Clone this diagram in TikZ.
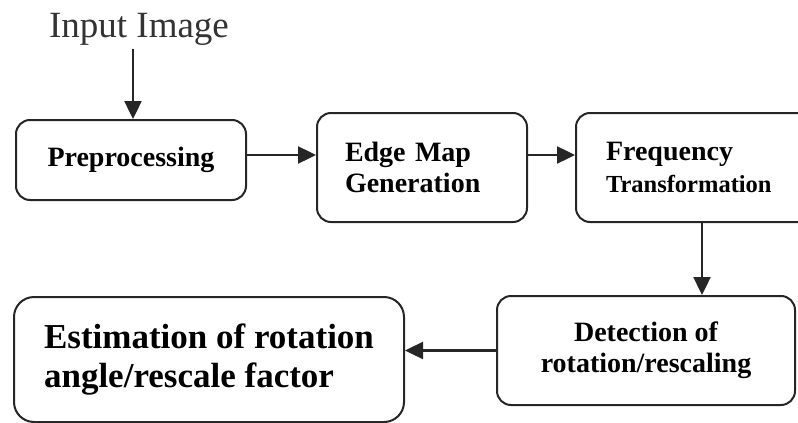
\documentclass[tikz,border=0pt]{standalone}
\usepackage{fontspec}
\setmainfont{Liberation Serif}
\usetikzlibrary{arrows.meta, positioning}

\begin{document}
\begin{tikzpicture}[
  x=1pt, y=-1pt,
  stage/.style={rectangle, draw=black!85, line width=2pt, rounded corners=#1,
                font=\fontsize{28}{31}\selectfont\bfseries, inner sep=0pt},
  stage/.default=14pt,
  arr/.style={-{Triangle[length=18pt,width=17pt]}, line width=2.4pt, black!85}
]
\useasboundingbox (0,0) rectangle (798,423);

\node[font=\fontsize{37}{40}\selectfont, text=black!80] (input) at (139,29) {Input Image};
\node[stage, minimum width=230pt, minimum height=80pt] (pre) at (131,160) {Preprocessing};
\node[stage, right=69pt of pre, yshift=-7.5pt, text width=154pt, inner xsep=28pt,
      minimum height=109pt, align=left] (edge) {Edge Map\\Generation};
\node[stage, right=47pt of edge, text width=192pt, inner xsep=30pt,
      minimum height=109pt, align=left] (freq) {Frequency\\[1pt]{\fontsize{24.5}{30}\selectfont Transformation}};
\node[stage, minimum width=298pt, minimum height=109pt, align=center] (det) at (646,350.5) {Detection of\\rotation/rescaling};
\node[stage=20pt, minimum width=390pt, minimum height=125pt, align=left,
      font=\fontsize{35}{39}\selectfont\bfseries] (est) at (209,359.5) {Estimation of rotation\\angle/rescale factor};

\draw[arr] ([xshift=-6pt]input.south) -- ([xshift=2pt]pre.north);
\draw[arr] ([yshift=5pt]pre.east) -- ([yshift=5pt]pre.east -| edge.west);
\draw[arr] ([yshift=12.5pt]edge.east) -- ([yshift=12.5pt]edge.east -| freq.west);
\draw[arr] (freq.south) -- (freq.south |- det.north);
\draw[arr] (det.west) -- (det.west -| est.east);
\end{tikzpicture}
\end{document}
